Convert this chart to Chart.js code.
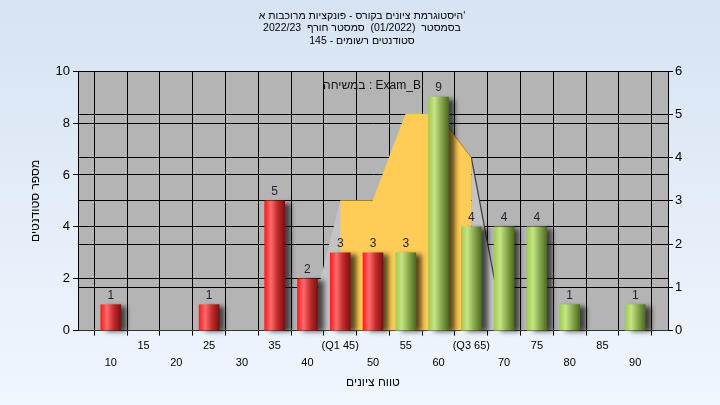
<!DOCTYPE html>
<html>
<head>
<meta charset="utf-8">
<script src="https://cdn.jsdelivr.net/npm/chart.js@4.4.0/dist/chart.umd.min.js"></script>
<style>
  body { margin: 0; background: #e6eef9; }
  canvas { display: block; }
</style>
</head>
<body>
<canvas id="myChart" width="720" height="405"></canvas>
<script>
// histogram bins (grade) and number of students in each
const gradeBins = [10, 25, 35, 40, 45, 50, 55, 60, 65, 70, 75, 80, 90];
const studentCounts = [1, 1, 5, 2, 3, 3, 3, 9, 4, 4, 4, 1, 1];
const passGrade = 55;

// distribution shape drawn behind the bars (right axis)
const curveGrades = [40, 45, 50, 55, 60, 65, 70];
const curveValues = [0, 3, 3, 5, 5, 4, 0];
// the Q1..Q3 part of it
const iqrGrades = [45, 50, 55, 60, 65];
const iqrValues = [3, 3, 5, 5, 4];

const quartileTicks = { 45: '(Q1 45)', 65: '(Q3 65)' };

const titleLines = [
    "היסטוגרמת ציונים בקורס - פונקציות מרוכבות א'",
    "בסמסטר  (01/2022)  סמסטר חורף  2022/23",
    "סטודנטים רשומים - 145"
];
const xTitle = 'טווח ציונים';
const yTitle = 'מספר סטודנטים';
const seriesNote = 'במשיחה : Exam_B';

const FONT = "'Liberation Sans', 'DejaVu Sans', Arial, sans-serif";
const barWidth = 20;

const redStops = ['#ff1c1c', '#ff6b6b', '#c22a2a', '#7a1212'];
const greenStops = ['#9fcc4e', '#c6e487', '#87a84a', '#4e6a22'];

function cylinder(c) {
    const stops = gradeBins[c.dataIndex] >= passGrade ? greenStops : redStops;
    const chart = c.chart;
    if (!chart.chartArea || !chart.scales.x) return stops[0];
    const px = chart.scales.x.getPixelForValue(gradeBins[c.dataIndex]);
    const g = chart.ctx.createLinearGradient(px - barWidth / 2, 0, px + barWidth / 2, 0);
    g.addColorStop(0, stops[0]);
    g.addColorStop(0.3, stops[1]);
    g.addColorStop(0.65, stops[2]);
    g.addColorStop(1, stops[3]);
    return g;
}

const backdrop = {
    id: 'backdrop',
    beforeDraw(chart) {
        const ctx = chart.ctx, a = chart.chartArea;
        ctx.save();
        const g = ctx.createLinearGradient(0, 0, 0, chart.height);
        g.addColorStop(0, '#d7e3f3');
        g.addColorStop(1, '#f0f6fd');
        ctx.fillStyle = g;
        ctx.fillRect(0, 0, chart.width, chart.height);
        ctx.fillStyle = '#b4b4b4';
        ctx.fillRect(a.left, a.top, a.right - a.left, a.bottom - a.top);
        ctx.restore();
    }
};

const barShadow = {
    id: 'barShadow',
    beforeDatasetDraw(chart, args) {
        if (args.index !== 0) return;
        const ctx = chart.ctx;
        ctx.save();
        ctx.shadowColor = 'rgba(0,0,0,0.65)';
        ctx.shadowBlur = 5;
        ctx.shadowOffsetX = 6;
        ctx.shadowOffsetY = 2;
    },
    afterDatasetDraw(chart, args) {
        if (args.index === 0) chart.ctx.restore();
    }
};

const barLabels = {
    id: 'barLabels',
    afterDatasetsDraw(chart) {
        const ctx = chart.ctx;
        const meta = chart.getDatasetMeta(0);
        ctx.save();
        ctx.font = '12px ' + FONT;
        ctx.fillStyle = '#1e2230';
        ctx.textAlign = 'center';
        ctx.textBaseline = 'bottom';
        meta.data.forEach(function (el, i) {
            ctx.fillText(String(studentCounts[i]), el.x, el.y - 3);
        });
        // series note at top of plot
        ctx.font = '12px ' + FONT;
        ctx.fillStyle = '#111';
        ctx.textBaseline = 'middle';
        ctx.fillText(seriesNote, 372, 86);
        ctx.restore();
    }
};

const ctx = document.getElementById('myChart').getContext('2d');

var graphData = {
    type: 'bar',
    data: {
        datasets: [{
            type: 'bar',
            label: 'Exam_B',
            data: gradeBins.map((g, i) => ({ x: g, y: studentCounts[i] })),
            xAxisID: 'x',
            yAxisID: 'y',
            barThickness: barWidth,
            backgroundColor: cylinder,
            borderWidth: 0,
            clip: false,
            order: 0
        }, {
            type: 'line',
            label: 'IQR',
            data: iqrGrades.map((g, i) => ({ x: g, y: iqrValues[i] })),
            xAxisID: 'x',
            yAxisID: 'y2',
            fill: 'origin',
            backgroundColor: '#ffcc55',
            borderColor: '#ffcc55',
            borderWidth: 1,
            segment: {
                borderColor: c => c.p0DataIndex === 3 ? 'rgba(140,100,40,0.7)' : '#ffcc55'
            },
            pointRadius: 0,
            tension: 0,
            order: 1
        }, {
            type: 'line',
            label: 'curve',
            data: curveGrades.map((g, i) => ({ x: g, y: curveValues[i] })),
            xAxisID: 'x',
            yAxisID: 'y2',
            fill: 'origin',
            backgroundColor: '#c3c3c3',
            borderWidth: 1.2,
            segment: {
                borderColor: c => c.p0DataIndex === 5 ? '#3c3c3c' : 'rgba(0,0,0,0)'
            },
            pointRadius: 0,
            tension: 0,
            order: 2
        }]
    },
    options: {
        responsive: false,
        animation: false,
        layout: { padding: { left: 24, right: 20, top: 0, bottom: 13 } },
        plugins: {
            legend: { display: false },
            tooltip: { enabled: false },
            title: {
                display: true,
                text: titleLines,
                color: '#000',
                font: { family: FONT, size: 10.5, lineHeight: 1.18, weight: 'normal' },
                padding: { top: 10, bottom: 24 }
            }
        },
        scales: {
            x: {
                type: 'linear',
                min: 5,
                max: 95,
                offset: false,
                grid: { color: '#000', lineWidth: 1, tickLength: 5, tickColor: '#000' },
                border: { color: '#333', width: 1 },
                ticks: {
                    stepSize: 5,
                    autoSkip: false,
                    maxRotation: 0,
                    padding: 2,
                    color: '#000',
                    font: { family: FONT, size: 11, lineHeight: 17 / 11 },
                    callback: function (v) {
                        if (v <= 5 || v >= 95) return '';
                        if (v % 10 === 0) return ['', String(v)];
                        return [quartileTicks[v] || String(v), ''];
                    }
                },
                title: {
                    display: true,
                    text: xTitle,
                    color: '#000',
                    font: { family: FONT, size: 12, lineHeight: 1.2 },
                    padding: { top: 2, bottom: 2 }
                }
            },
            y: {
                position: 'left',
                min: 0,
                max: 10,
                afterFit: s => { s.width = 54; },
                grid: { color: '#000', lineWidth: 1, tickLength: 5, tickColor: '#000' },
                border: { color: '#000', width: 1 },
                ticks: { stepSize: 2, padding: 3, color: '#000', font: { family: FONT, size: 13 } },
                title: {
                    display: true,
                    text: yTitle,
                    color: '#000',
                    font: { family: FONT, size: 12 },
                    padding: { top: 4, bottom: 0 }
                }
            },
            y2: {
                position: 'right',
                min: 0,
                max: 6,
                afterFit: s => { s.width = 32; },
                grid: { color: '#000', lineWidth: 1, tickLength: 5, tickColor: '#000' },
                border: { color: '#000', width: 1 },
                ticks: { stepSize: 1, padding: 2, color: '#000', font: { family: FONT, size: 13 } }
            }
        }
    },
    plugins: [backdrop, barShadow, barLabels]
};

var myChart = new Chart(ctx, graphData);
</script>
</body>
</html>
